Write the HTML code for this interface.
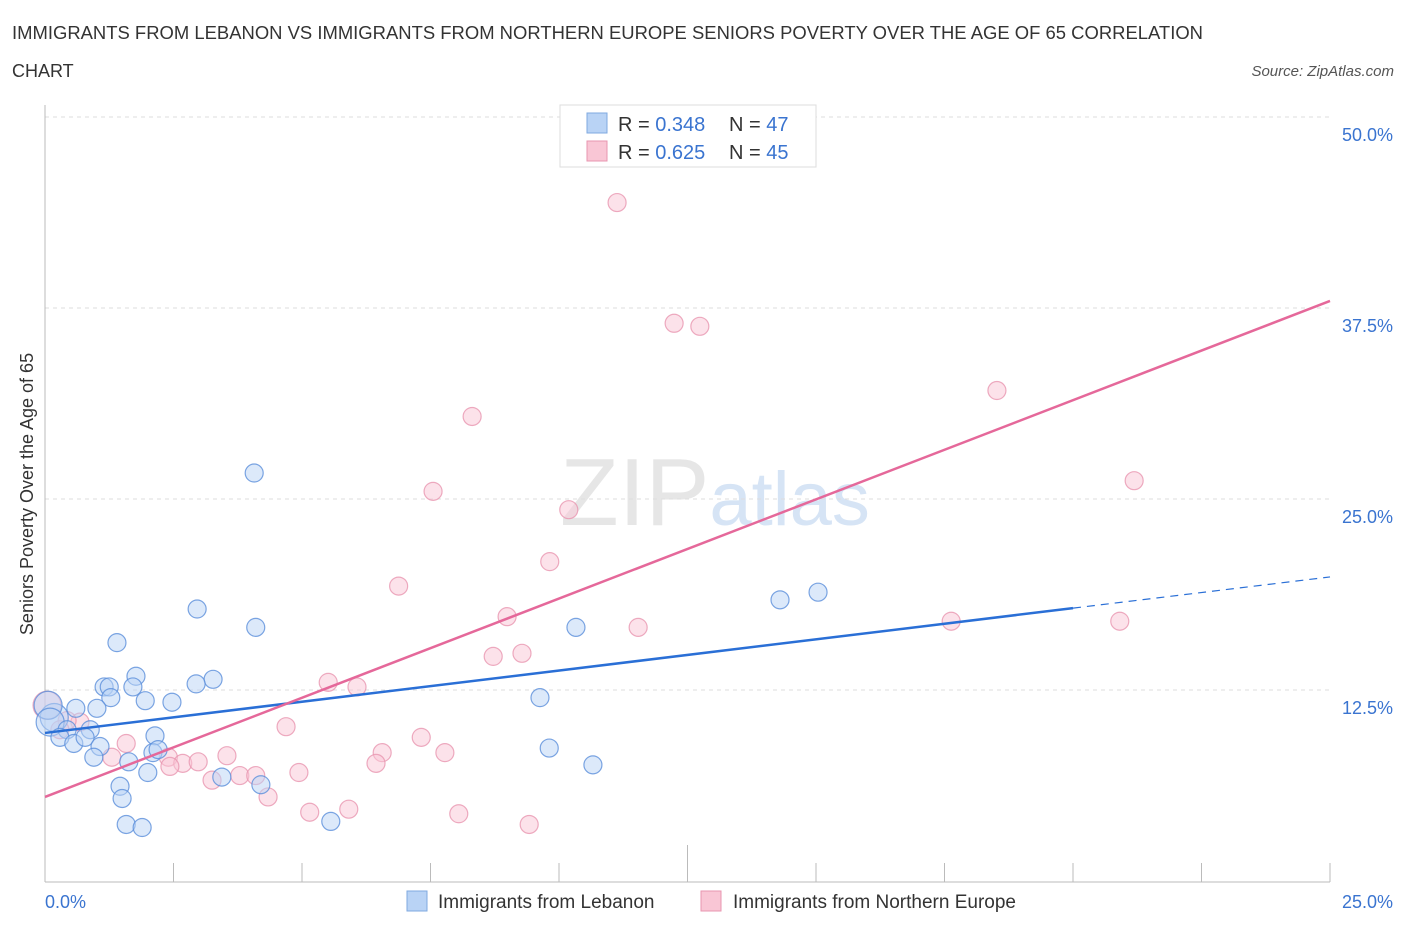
<!DOCTYPE html>
<html><head><meta charset="utf-8"><style>
body{margin:0;background:#fff;font-family:"Liberation Sans",sans-serif;}
svg text{font-family:"Liberation Sans",sans-serif;}
</style></head><body>
<svg id="chart" width="1406" height="930" xmlns="http://www.w3.org/2000/svg">
<text x="12" y="39" font-size="18" fill="#333" textLength="1191" lengthAdjust="spacingAndGlyphs">IMMIGRANTS FROM LEBANON VS IMMIGRANTS FROM NORTHERN EUROPE SENIORS POVERTY OVER THE AGE OF 65 CORRELATION</text>
<text x="12" y="77" font-size="18" fill="#333">CHART</text>
<text x="1394" y="76" font-size="15" fill="#555" font-style="italic" text-anchor="end">Source: ZipAtlas.com</text>
<text x="715" y="525" font-size="96" fill="#e6e6e6" text-anchor="middle" font-family="Liberation Serif"><tspan>ZIP</tspan><tspan fill="#d6e4f5" font-family="Liberation Sans" font-size="76">atlas</tspan></text>
<g id="grid"></g>
<g id="axes"></g>
<g id="marks"></g>
<text transform="translate(33,494) rotate(-90)" font-size="18" fill="#333" text-anchor="middle">Seniors Poverty Over the Age of 65</text>
<g>
<rect x="560" y="105" width="256" height="62" fill="#fff" stroke="#ddd"/>
<rect x="587" y="113" width="20" height="20" fill="#b9d3f5" stroke="#7fa9e0"/>
<rect x="587" y="141" width="20" height="20" fill="#f9c6d5" stroke="#e896b0"/>
<text x="618" y="131" font-size="20" fill="#333">R = <tspan fill="#3a74d0">0.348</tspan></text>
<text x="729" y="131" font-size="20" fill="#333">N = <tspan fill="#3a74d0">47</tspan></text>
<text x="618" y="159" font-size="20" fill="#333">R = <tspan fill="#3a74d0">0.625</tspan></text>
<text x="729" y="159" font-size="20" fill="#333">N = <tspan fill="#3a74d0">45</tspan></text>
</g>
<g>
<rect x="407" y="891" width="20" height="20" fill="#b9d3f5" stroke="#7fa9e0"/>
<text x="438" y="908" font-size="19" fill="#333">Immigrants from Lebanon</text>
<rect x="701" y="891" width="20" height="20" fill="#f9c6d5" stroke="#e896b0"/>
<text x="733" y="908" font-size="19" fill="#333">Immigrants from Northern Europe</text>
</g>
</svg>
<script>
const xTicks=[0,2.5,5,7.5,10,12.5,15,17.5,20,22.5,25];
const yTicks=[12.5,25,37.5,50];
const yTickLabels=["12.5%","25.0%","37.5%","50.0%"];
const lebanonX=[4.07,2.96,4.10,1.40,1.77,1.15,1.25,1.71,3.27,2.94,1.28,1.95,2.47,1.01,0.60,0.18,0.06,0.10,0.43,0.88,0.29,0.56,0.78,1.07,0.95,2.14,2.10,2.20,1.63,2.00,3.44,1.46,4.20,1.50,1.58,1.89,5.56,10.33,9.63,9.81,10.66,14.30,15.04];
const lebanonY=[26.7,17.8,16.6,15.6,13.4,12.7,12.7,12.7,13.2,12.9,12.0,11.8,11.7,11.3,11.3,10.7,11.5,10.4,9.9,9.9,9.4,9.0,9.4,8.8,8.1,9.5,8.4,8.6,7.8,7.1,6.8,6.2,6.3,5.4,3.7,3.5,3.9,16.6,12.0,8.7,7.6,18.4,18.9];
const europeX=[11.13,12.24,12.74,18.52,8.31,21.19,7.55,10.19,9.82,6.88,8.99,17.63,20.91,11.54,8.72,9.28,5.51,6.07,4.69,7.32,7.78,6.56,6.44,3.54,1.58,1.30,2.40,2.68,2.98,2.43,3.25,3.79,4.10,4.94,4.34,5.15,5.91,8.05,9.42,0.04,0.68,0.43,0.29,13.97];
const europeY=[44.4,36.5,36.3,32.1,30.4,26.2,25.5,24.3,20.9,19.3,17.3,17.0,17.0,16.6,14.7,14.9,13.0,12.7,10.1,9.4,8.4,8.4,7.7,8.2,9.0,8.1,8.1,7.7,7.8,7.5,6.6,6.9,6.9,7.1,5.5,4.5,4.7,4.4,3.7,11.5,10.4,10.5,9.9,47.9];
const lebanonTrend=[9.69,19.9];
const europeTrend=[5.5,37.96];
const xs=v=>45+v/25*1285, ys=v=>881-v/50*764;
const NS="http://www.w3.org/2000/svg";
function mk(tag,attrs,parent){const e=document.createElementNS(NS,tag);for(const k in attrs)e.setAttribute(k,attrs[k]);document.getElementById(parent).appendChild(e);return e;}
yTicks.forEach((t,i)=>{
 const g=mk('line',{x1:45,x2:1330,y1:ys(t),y2:ys(t),stroke:'#ddd','stroke-dasharray':'4,4'},'grid');
 
 
 const l=mk('text',{x:1393,y:ys(t)+24,'font-size':18,fill:'#3a74d0','text-anchor':'end'},'axes');
 l.textContent=yTickLabels[i];
 
 
});
let a=mk('line',{x1:45,x2:45,y1:105,y2:882,stroke:'#bbb'},'axes');


a=mk('line',{x1:45,x2:1330,y1:882,y2:882,stroke:'#bbb'},'axes');


xTicks.forEach((t,i)=>{
 const tk=mk('line',{x1:xs(t),x2:xs(t),y1:i==5?845:863,y2:882,stroke:'#bbb'},'axes');
 
 
});
let xl=mk('text',{x:45,y:908,'font-size':18,fill:'#3a74d0'},'axes');xl.textContent='0.0%';


xl=mk('text',{x:1393,y:908,'font-size':18,fill:'#3a74d0','text-anchor':'end'},'axes');xl.textContent='25.0%';


function pts(X,Y,fill,stroke,name){X.forEach((x,i)=>{
 const r=(x<0.2)?14:9;
 const c=mk('circle',{cx:xs(x),cy:ys(Y[i]),r:r,fill:fill,'fill-opacity':0.5,stroke:stroke,'stroke-opacity':0.8,'stroke-width':1.2},'marks');
 
 
});}
pts(europeX,europeY,'#f9c6d5','#e896b0','point-northern-europe');
pts(lebanonX,lebanonY,'#b9d3f5','#5b8fdb','point-lebanon');
const lf=v=>lebanonTrend[0]+(lebanonTrend[1]-lebanonTrend[0])*v/25;
let t=mk('line',{x1:xs(0),y1:ys(lf(0)),x2:xs(20),y2:ys(lf(20)),stroke:'#2a6fd6','stroke-width':2.5},'marks');


t=mk('line',{x1:xs(20),y1:ys(lf(20)),x2:xs(25),y2:ys(lf(25)),stroke:'#2a6fd6','stroke-width':1.2,'stroke-dasharray':'8,6'},'marks');


t=mk('line',{x1:xs(0),y1:ys(europeTrend[0]),x2:xs(25),y2:ys(europeTrend[1]),stroke:'#e5689a','stroke-width':2.5},'marks');


</script>
</body></html>
